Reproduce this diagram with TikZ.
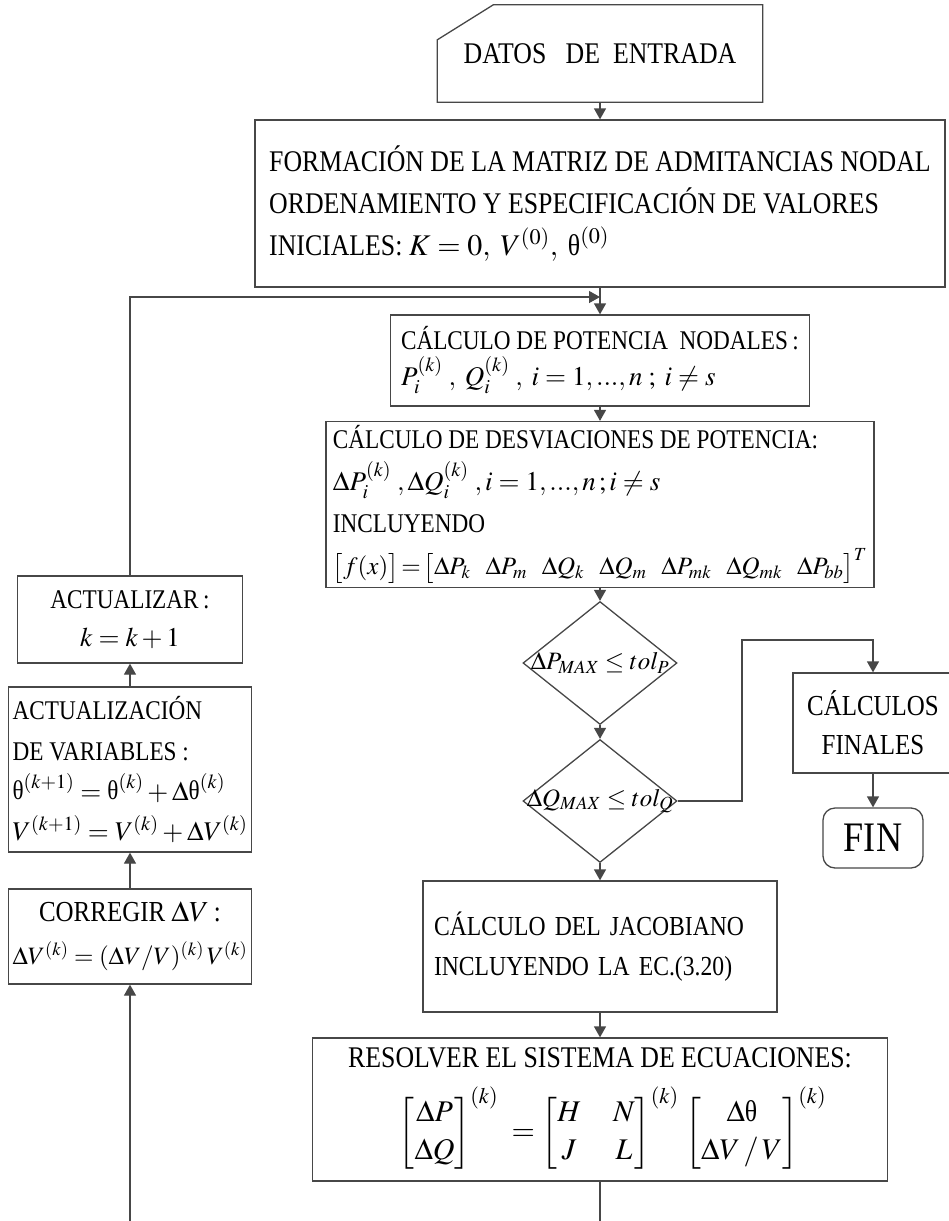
\documentclass[tikz,border=0pt]{standalone}
\usepackage{amsmath}
\usepackage{mathptmx}
\usepackage[no-math]{fontspec}
\setmainfont{Liberation Serif}[FakeStretch=0.86]
\usetikzlibrary{shapes.geometric,arrows.meta}
\newcommand\thup{\mbox{θ}}

\begin{document}
\begin{tikzpicture}[x=1pt,y=-1pt,
  linec/.style={draw=black!72,line width=1.3pt},
  box/.style={linec,rectangle,inner sep=4pt,align=left},
  decide/.style={linec,diamond,minimum width=154pt,minimum height=123pt,inner sep=0pt},
  arr/.style={linec,-{Triangle[length=11pt,width=12pt]}}]
\useasboundingbox (0,0) rectangle (948,1221);

%Shape: Card [datos de entrada]
\node[minimum width=325pt,minimum height=97pt,font=\fontsize{30}{36}\selectfont] (datos) at (600,53.5) {DATOS\ \ \ DE\ \ ENTRADA};
\draw[linec] (datos.south west) -- ([yshift=-35pt]datos.north west) -- ([xshift=56pt]datos.north west) -- (datos.north east) -- (datos.south east) -- cycle;

%Shape: Rectangle [matriz de admitancias]
\node[box,minimum width=690pt,minimum height=167pt,font=\fontsize{30}{42}\selectfont] (admit) at (600,203.5) {FORMACIÓN DE LA MATRIZ DE ADMITANCIAS NODAL\\ORDENAMIENTO Y ESPECIFICACIÓN DE VALORES\\INICIALES: $K=0,\ V^{(0)},\ \thup^{(0)}$};
%Shape: Rectangle [potencias]
\node[box,minimum width=419pt,minimum height=91pt,font=\fontsize{27}{36}\selectfont] (pot) at (600,360.5) {CÁLCULO DE POTENCIA\ \ NODALES\,:\\$P_i^{(k)}\ ,\ Q_i^{(k)}\ ,\ i=1,...,n\ ;\ i\ne s$};
%Shape: Rectangle [desviaciones]
\node[box,minimum width=548pt,minimum height=165pt,font=\fontsize{27}{42}\selectfont] (desv) at (600,504.5) {CÁLCULO DE DESVIACIONES DE POTENCIA:\\$\Delta P_i^{(k)}\ ,\Delta Q_i^{(k)}\ ,i=1,...,n\,;i\ne s$\\INCLUYENDO\\{\fontsize{25}{42}\selectfont$\bigl[f(x)\bigr]\!=\!\bigl[\Delta P_k\hspace{15pt}\Delta P_m\hspace{15pt}\Delta Q_k\hspace{15pt}\Delta Q_m\hspace{15pt}\Delta P_{mk}\hspace{15pt}\Delta Q_{mk}\hspace{15pt}\Delta P_{bb}\bigr]^T$}};

%Shape: Diamond
\node[decide] (dp) at (600,663) {};
\node[font=\fontsize{25}{30}\selectfont] (dptxt) at (dp) {$\Delta P_{MAX}\le tol_{P}$};
%Shape: Diamond
\node[decide] (dq) at (600,801) {};
\node[font=\fontsize{25}{30}\selectfont] (dqtxt) at (dq) {$\Delta Q_{MAX}\le tol_{Q}$};

%Shape: Rectangle [calculos finales]
\node[box,align=center,minimum width=160pt,minimum height=100pt,font=\fontsize{29}{39}\selectfont] (final) at (873,723) {CÁLCULOS\\FINALES};
%Shape: Rounded Rect
\node[box,rounded corners=12pt,minimum width=100pt,minimum height=60pt,font=\fontsize{42}{42}\selectfont] (fin) at (873,838) {FIN};

%Shape: Rectangle [jacobiano]
\node[box,text width=332pt,minimum width=354pt,minimum height=131pt,font=\fontsize{27.5}{40}\selectfont] (jac) at (600,946.5) {CÁLCULO\ DEL JACOBIANO\\INCLUYENDO\ LA EC.(3.20)};
%Shape: Rectangle [sistema de ecuaciones]
\node[box,align=center,minimum width=575pt,minimum height=143pt,font=\fontsize{30}{36}\selectfont] (solve) at (600,1109.5) {RESOLVER EL SISTEMA DE ECUACIONES:\\[18pt]$\renewcommand\arraystretch{1.05}\hspace{25pt}\begin{bmatrix}\Delta P\\ \Delta Q\end{bmatrix}^{(k)}\;=\begin{bmatrix}H & \hspace{22pt}N\\ J & \hspace{22pt}L\end{bmatrix}^{(k)}\,\begin{bmatrix}\hspace{10pt}\Delta\thup\hspace{10pt}\\ \Delta V\,/\,V\end{bmatrix}^{(k)}$};

%Shape: Rectangle [actualizar]
\node[box,align=center,minimum width=225pt,minimum height=87pt,font=\fontsize{27}{38}\selectfont] (act) at (130,619.5) {ACTUALIZAR\,:\\$k=k+1$};
%Shape: Rectangle [actualizacion de variables]
\node[box,minimum width=228pt,minimum height=165pt,font=\fontsize{27}{40}\selectfont] (actvar) at (130,769.5) {ACTUALIZACIÓN\\DE VARIABLES :\\$\thup^{(k+1)}=\thup^{(k)}+\Delta\thup^{(k)}$\\$V^{(k+1)}=V^{(k)}+\Delta V^{(k)}$};
%Shape: Rectangle [corregir]
\node[box,align=center,minimum width=242pt,minimum height=95pt,font=\fontsize{25}{43}\selectfont] (corr) at (130,936.5) {{\fontsize{29}{43}\selectfont CORREGIR $\Delta V$\,:}\\$\Delta V^{(k)}=(\Delta V/V)^{(k)}\,V^{(k)}$};

%Straight Lines
\coordinate (loop) at (600,297);
\coordinate (bend) at (742,640);
\coordinate (cutl) at (130,1221);
\coordinate (cutr) at (600,1221);
\draw[arr] (datos.south) -- (admit.north);
\draw[arr] (admit.south) -- (pot.north);
\draw[arr] (act.north) |- (loop);
\draw[arr] (pot.south) -- (desv.north);
\draw[arr] (desv.south) -- (dp.north);
\draw[arr] (dp.south) -- (dq.north);
\draw[arr] (dq.south) -- (jac.north);
\draw[arr] (jac.south) -- (solve.north);
\draw[arr] (dq.east) -| (bend) -| (final.north);
\draw[arr] (final.south) -- (fin.north);
\draw[linec] (solve.south) -- (cutr);
\draw[arr] (cutl) -- (corr.south);
\draw[arr] (corr.north) -- (actvar.south);
\draw[arr] (actvar.north) -- (act.south);

\end{tikzpicture}
\end{document}
